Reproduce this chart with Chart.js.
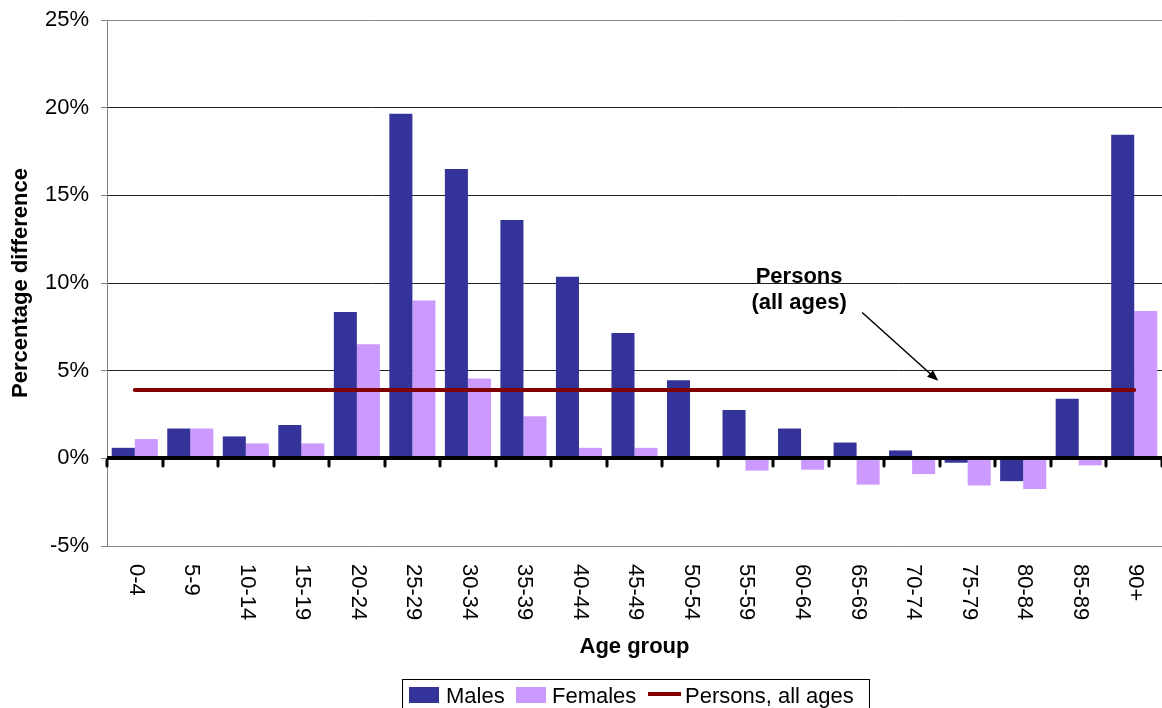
<!DOCTYPE html>
<html>
<head>
<meta charset="utf-8">
<title>Percentage difference by age group</title>
<script src="https://cdn.jsdelivr.net/npm/chart.js@4/dist/chart.umd.min.js"></script>
<style>
  html, body { margin: 0; padding: 0; background: #ffffff; }
  #wrap { width: 1162px; height: 708px; position: relative; }
</style>
</head>
<body>
<div id="wrap"><canvas id="chart" width="1162" height="708"></canvas></div>
<script>
// Age groups shown along the x axis
const ageGroups = ['0-4', '5-9', '10-14', '15-19', '20-24', '25-29', '30-34', '35-39', '40-44',
  '45-49', '50-54', '55-59', '60-64', '65-69', '70-74', '75-79', '80-84', '85-89', '90+'];

// Percentage difference for each sex (%)
const males = [0.6, 1.7, 1.25, 1.9, 8.35, 19.65, 16.5, 13.6, 10.35, 7.15, 4.45, 2.75, 1.7, 0.9, 0.45, -0.25, -1.3, 3.4, 18.45];
const females = [1.1, 1.7, 0.85, 0.85, 6.5, 9.0, 4.55, 2.4, 0.6, 0.6, -0.05, -0.7, -0.65, -1.5, -0.9, -1.55, -1.75, -0.4, 8.4];

// Persons, all ages: a single figure drawn across every group
const personsAllAges = [3.9, 3.9, 3.9, 3.9, 3.9, 3.9, 3.9, 3.9, 3.9, 3.9, 3.9, 3.9, 3.9, 3.9, 3.9, 3.9, 3.9, 3.9, 3.9];

// Value axis range and step (%)
const yMin = -5;
const yMax = 25;
const yStep = 5;

const FONT = '"Liberation Sans", Arial, Helvetica, sans-serif';
const MALE_COLOR = '#333399';
const FEMALE_COLOR = '#CC99FF';
const PERSON_COLOR = '#800000';

// Extra drawing: thick zero line with category ticks, rotated age labels,
// axis titles, the callout and the framed legend.
const decorations = {
  id: 'decorations',
  afterDatasetsDraw(chart) {
    const { ctx, chartArea: a, scales: { x, y } } = chart;
    const y0 = Math.round(y.getPixelForValue(0));
    ctx.save();

    // zero line
    ctx.strokeStyle = '#000';
    ctx.lineWidth = 4;
    ctx.lineCap = 'butt';
    ctx.beginPath();
    ctx.moveTo(a.left, y0);
    ctx.lineTo(a.right, y0);
    ctx.stroke();

    // tick marks on the category boundaries
    ctx.lineWidth = 3;
    ctx.lineCap = 'round';
    for (let i = 0; i <= ageGroups.length; i++) {
      const px = Math.round(x.getPixelForValue(i - 0.5));
      ctx.beginPath();
      ctx.moveTo(px, y0 + 2);
      ctx.lineTo(px, y0 + 8);
      ctx.stroke();
    }
    ctx.restore();
  },
  afterDraw(chart) {
    const { ctx, chartArea: a, scales: { x, y } } = chart;
    ctx.save();
    ctx.fillStyle = '#000';

    // category labels, turned to read downwards
    ctx.font = '22px ' + FONT;
    ctx.textAlign = 'left';
    ctx.textBaseline = 'middle';
    ageGroups.forEach((label, i) => {
      const cx = x.getPixelForValue(i);
      ctx.save();
      ctx.translate(cx + 1, a.bottom + 18);
      ctx.rotate(Math.PI / 2);
      ctx.fillText(label, 0, 0);
      ctx.restore();
    });

    // x axis title
    ctx.font = 'bold 22px ' + FONT;
    ctx.textAlign = 'center';
    ctx.textBaseline = 'alphabetic';
    ctx.fillText('Age group', (a.left + a.right) / 2, 653);

    // y axis title
    ctx.save();
    ctx.translate(21, (a.top + a.bottom) / 2);
    ctx.rotate(-Math.PI / 2);
    ctx.textAlign = 'center';
    ctx.textBaseline = 'middle';
    ctx.fillText('Percentage difference', 0, 0);
    ctx.restore();

    // callout for the all-ages line
    const tx = x.getPixelForValue(12) - 2;
    ctx.textAlign = 'center';
    ctx.textBaseline = 'alphabetic';
    ctx.fillText('Persons', tx, y.getPixelForValue(10.02));
    ctx.fillText('(all ages)', tx, y.getPixelForValue(8.5));

    const sx = x.getPixelForValue(13.1), sy = y.getPixelForValue(8.32);
    const ex = x.getPixelForValue(14.47), ey = y.getPixelForValue(4.42);
    const ang = Math.atan2(ey - sy, ex - sx);
    const headLen = 11, headHalf = 4.5;
    ctx.strokeStyle = '#000';
    ctx.lineWidth = 1.5;
    ctx.beginPath();
    ctx.moveTo(sx, sy);
    ctx.lineTo(ex - Math.cos(ang) * headLen * 0.8, ey - Math.sin(ang) * headLen * 0.8);
    ctx.stroke();
    ctx.beginPath();
    ctx.moveTo(ex, ey);
    ctx.lineTo(ex - Math.cos(ang) * headLen - Math.sin(ang) * headHalf,
               ey - Math.sin(ang) * headLen + Math.cos(ang) * headHalf);
    ctx.lineTo(ex - Math.cos(ang) * headLen + Math.sin(ang) * headHalf,
               ey - Math.sin(ang) * headLen - Math.cos(ang) * headHalf);
    ctx.closePath();
    ctx.fill();

    // legend with frame
    ctx.strokeStyle = '#000';
    ctx.lineWidth = 1;
    ctx.strokeRect(402.5, 679.5, 467, 40);
    ctx.fillStyle = MALE_COLOR;
    ctx.fillRect(409, 687, 30, 16);
    ctx.fillStyle = FEMALE_COLOR;
    ctx.fillRect(516, 687, 30, 16);
    ctx.strokeStyle = PERSON_COLOR;
    ctx.lineWidth = 4;
    ctx.lineCap = 'butt';
    ctx.beginPath();
    ctx.moveTo(648, 694);
    ctx.lineTo(681, 694);
    ctx.stroke();
    ctx.fillStyle = '#000';
    ctx.font = '22px ' + FONT;
    ctx.textAlign = 'left';
    ctx.textBaseline = 'alphabetic';
    ctx.fillText('Males', 446, 703);
    ctx.fillText('Females', 552, 703);
    ctx.fillText('Persons, all ages', 685, 703);

    ctx.restore();
  }
};

new Chart(document.getElementById('chart'), {
  data: {
    labels: ageGroups,
    datasets: [
      {
        type: 'line',
        label: 'Persons, all ages',
        data: personsAllAges,
        borderColor: PERSON_COLOR,
        borderWidth: 4,
        borderCapStyle: 'round',
        pointRadius: 0,
        pointHoverRadius: 0,
        fill: false,
        order: 0
      },
      {
        type: 'bar',
        label: 'Males',
        data: males,
        backgroundColor: MALE_COLOR,
        borderWidth: 0,
        categoryPercentage: 0.83,
        barPercentage: 1.0,
        order: 1
      },
      {
        type: 'bar',
        label: 'Females',
        data: females,
        backgroundColor: FEMALE_COLOR,
        borderWidth: 0,
        categoryPercentage: 0.83,
        barPercentage: 1.0,
        order: 1
      }
    ]
  },
  options: {
    responsive: false,
    animation: false,
    devicePixelRatio: 1,
    layout: { padding: { top: 20, right: 0, left: 0, bottom: 0 } },
    plugins: {
      legend: { display: false },
      tooltip: { enabled: false },
      title: { display: false }
    },
    scales: {
      x: {
        type: 'category',
        offset: true,
        grid: { display: false },
        border: { display: false },
        ticks: { display: false },
        afterFit(scale) {
          scale.height = 162;
          scale.paddingLeft = 0;
          scale.paddingRight = 0;
        }
      },
      y: {
        min: yMin,
        max: yMax,
        ticks: {
          stepSize: yStep,
          padding: 12,
          color: '#000',
          font: { family: FONT, size: 22 },
          callback: (v) => v + '%'
        },
        grid: {
          color: (c) => (c.tick && (c.tick.value === yMin || c.tick.value === yMax)) ? '#8a8a8a' : '#222222',
          lineWidth: 1,
          tickLength: 6,
          tickColor: '#808080'
        },
        border: { display: true, color: '#808080', width: 1 },
        afterFit(scale) {
          scale.width = 107;
          scale.paddingTop = 0;
          scale.paddingBottom = 0;
        }
      }
    }
  },
  plugins: [decorations]
});
</script>
</body>
</html>
